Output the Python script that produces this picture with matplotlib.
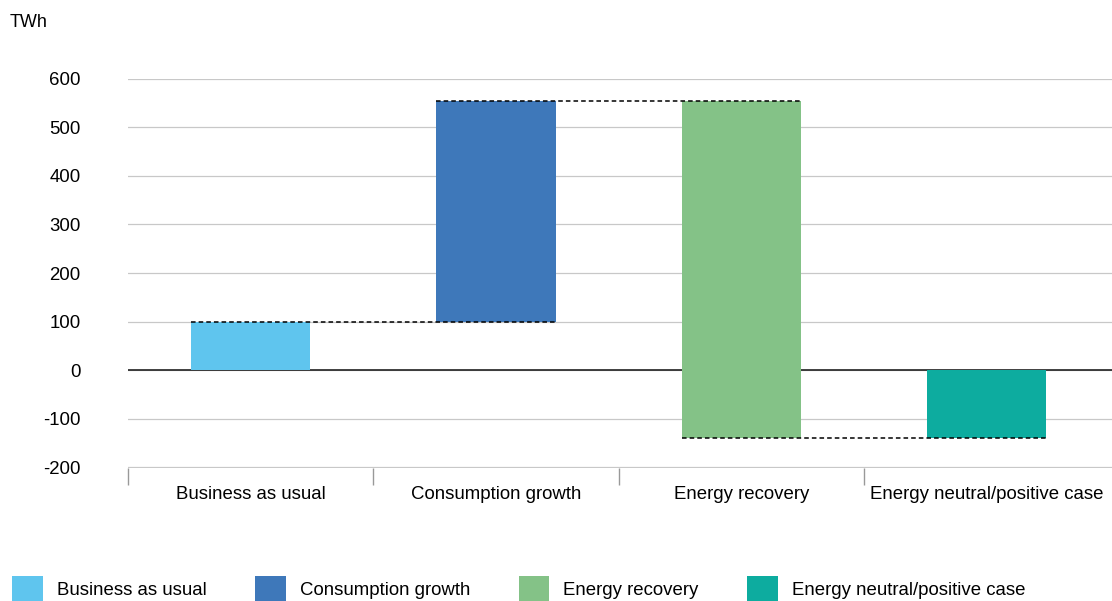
import numpy as np
import matplotlib.pyplot as plt
from matplotlib.patches import Patch

plt.rcParams['font.family'] = ['Liberation Sans', 'DejaVu Sans']

categories = ["Business as usual", "Consumption growth", "Energy recovery",
              "Energy neutral/positive case"]
# step changes in TWh; the last bar is the resulting total
changes = [100, 455, -695]
colors = ["#5fc5ee", "#3e78ba", "#84c287", "#0dac9f"]
yticks = [-200, -100, 0, 100, 200, 300, 400, 500, 600]

levels = np.cumsum(changes)
total = levels[-1]
bottoms = list(levels - np.array(changes)) + [0]
heights = list(changes) + [total]

fig = plt.figure(figsize=(11.12, 6.01), dpi=100)
ax = fig.add_axes([0.115, 0.222, 0.885, 0.6467])

x = np.arange(len(categories))
width = 0.485
ax.bar(x, heights, width, bottom=bottoms, color=colors, zorder=3)

# dashed connectors: from left edge of bar i to right edge of bar i+1
for i, lvl in enumerate(levels):
    ax.plot([x[i] - width / 2, x[i + 1] + width / 2], [lvl, lvl],
            color="black", lw=1.1, ls=(0, (3, 2)), zorder=4)

ax.axhline(0, color="#222222", lw=1.2, zorder=2)

ax.set_xlim(-0.47, 3.51)
ax.set_ylim(-201, 600)
ax.set_yticks(yticks)
ax.set_yticklabels([str(v) for v in yticks])
ax.grid(axis="y", color="#c8c8c8", lw=0.9, zorder=0)
for s in ax.spines.values():
    s.set_visible(False)

ax.set_xticks(x)
ax.set_xticklabels(categories)
ax.set_xticks(np.arange(-0.5, len(categories) - 0.5, 1), minor=True)
ax.tick_params(axis="x", which="major", length=0, pad=13, labelsize=13.4)
ax.tick_params(axis="x", which="minor", length=12, width=1, color="#999999")
ax.tick_params(axis="y", length=0, pad=34, labelsize=13.4)

fig.text(0.009, 0.963, "TWh", fontsize=13, va="center", ha="left")

handles = [Patch(facecolor=c, edgecolor="none") for c in colors]
fig.legend(handles, categories, loc="center left", bbox_to_anchor=(-0.004, 0.02),
           ncol=4, frameon=False, fontsize=13.4, handlelength=1.65,
           handleheight=1.75, handletextpad=0.75, columnspacing=2.6)

fig.savefig("out.png", dpi=100)
